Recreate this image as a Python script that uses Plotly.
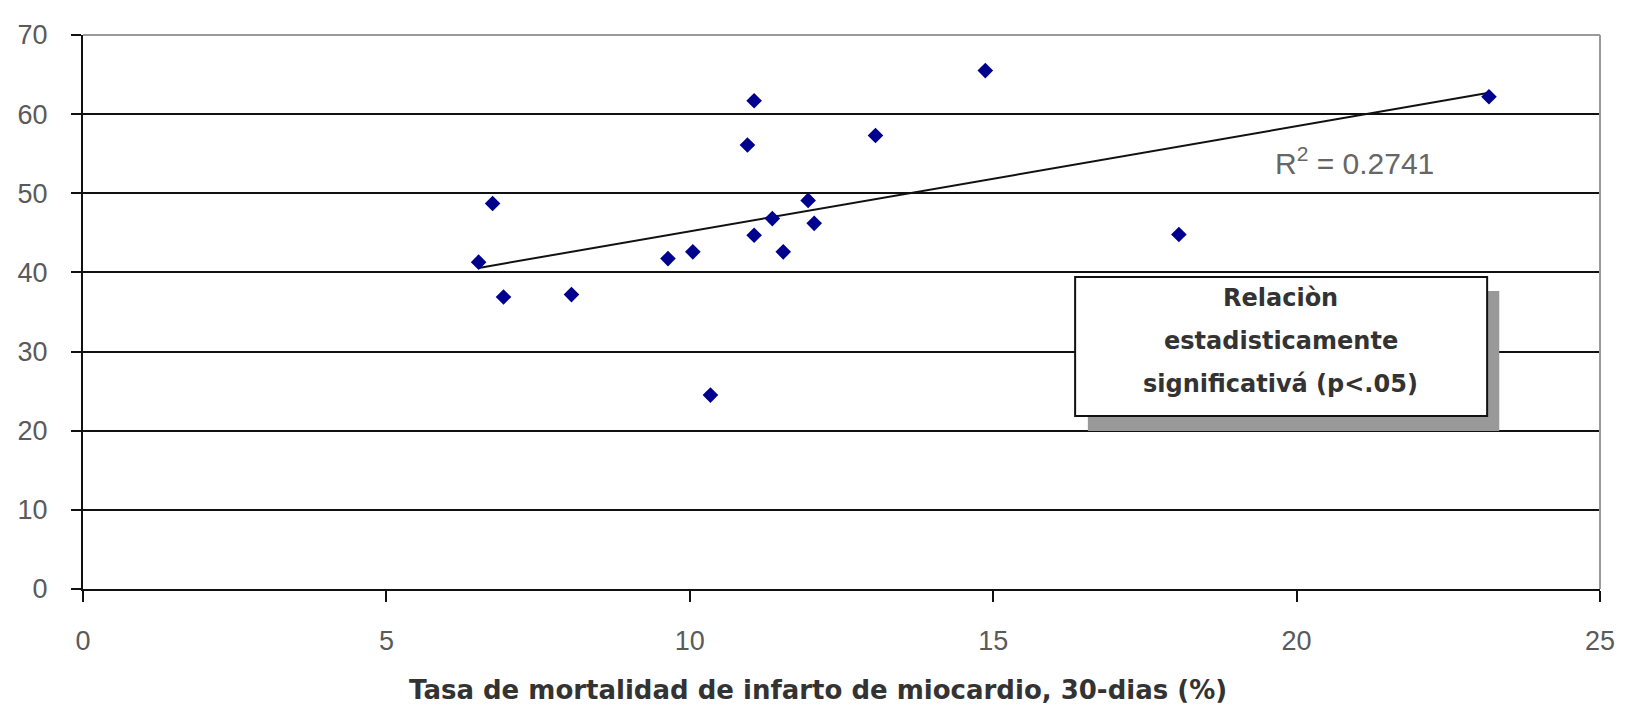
import numpy as np
import plotly.graph_objects as go

# 30-day myocardial infarction mortality (%) vs. second measure, one point per hospital
mortalidad = [6.52, 6.75, 6.93, 8.05, 9.64, 10.05, 10.34, 10.95, 11.06,
              11.06, 11.36, 11.54, 11.95, 12.05, 13.06, 14.87, 18.06, 23.17]
valores = [41.3, 48.7, 36.9, 37.2, 41.75, 42.6, 24.5, 56.1, 61.7,
           44.7, 46.8, 42.6, 49.1, 46.2, 57.3, 65.5, 44.8, 62.2]

x_ticks = [0, 5, 10, 15, 20, 25]
y_ticks = [0, 10, 20, 30, 40, 50, 60, 70]

r2_label = "R<sup>2</sup> = 0.2741"
box_lines = ["Relaciòn", "estadisticamente", "significativá (p<.05)"]
x_title = "Tasa de mortalidad de infarto de miocardio, 30-dias (%)"

# Linear least-squares trend line over the data range
slope, intercept = np.polyfit(mortalidad, valores, 1)
trend_x = np.array([min(mortalidad), max(mortalidad)])
trend_y = slope * trend_x + intercept

FONT = "Liberation Sans, Arial, sans-serif"
BOLD_FONT = "DejaVu Sans, Liberation Sans, sans-serif"

fig = go.Figure()

fig.add_trace(go.Scatter(
    x=trend_x, y=trend_y, mode="lines",
    line=dict(color="#111111", width=2),
    hoverinfo="skip", showlegend=False,
))

fig.add_trace(go.Scatter(
    x=mortalidad, y=valores, mode="markers",
    marker=dict(symbol="diamond", size=12, color="#00008f",
                line=dict(width=0)),
    showlegend=False,
))

fig.update_xaxes(
    range=[0, 25], tickvals=x_ticks, ticktext=[str(v) for v in x_ticks],
    showgrid=False, zeroline=False,
    showline=True, linecolor="#111111", linewidth=2,
    ticks="outside", ticklen=11, tickwidth=2, tickcolor="#111111",
    tickfont=dict(family=FONT, size=27, color="#5a5a5a"),
    ticklabelstandoff=16,
)
fig.update_yaxes(
    range=[0, 70], tickvals=y_ticks, ticktext=[str(v) for v in y_ticks],
    showgrid=True, gridcolor="#111111", gridwidth=2, zeroline=False,
    showline=True, linecolor="#111111", linewidth=2,
    ticks="outside", ticklen=10, tickwidth=2, tickcolor="#111111",
    tickfont=dict(family=FONT, size=27, color="#5a5a5a"),
    ticklabelstandoff=18,
)

shapes = [
    # grey plot-area frame on the top and right
    dict(type="line", xref="paper", yref="paper", x0=0, x1=1, y0=1, y1=1,
         line=dict(color="#9a9a9a", width=2), layer="above"),
    dict(type="line", xref="paper", yref="paper", x0=1, x1=1, y0=0, y1=1,
         line=dict(color="#9a9a9a", width=2), layer="above"),
    # drop shadow of the note box
    dict(type="rect", xref="x", yref="y", x0=16.56, x1=23.34, y0=19.96, y1=37.65,
         fillcolor="#999999", line=dict(width=0), layer="above"),
    # note box
    dict(type="rect", xref="x", yref="y", x0=16.35, x1=23.14, y0=21.86, y1=39.42,
         fillcolor="white", line=dict(color="#111111", width=2), layer="above"),
]

annotations = [
    dict(x=20.96, y=54.1, xref="x", yref="y", text=r2_label, showarrow=False,
         font=dict(family=FONT, size=30, color="#666666")),
    dict(x=0.4846, y=-0.182, xref="paper", yref="paper", text=x_title,
         showarrow=False, yanchor="middle",
         font=dict(family=BOLD_FONT, size=26, color="#333333", weight="bold")),
]
for line_text, y_pos in zip(box_lines, [36.77, 31.34, 25.9]):
    annotations.append(dict(
        x=19.74, y=y_pos, xref="x", yref="y", text=line_text, showarrow=False,
        font=dict(family=BOLD_FONT, size=24, color="#333333", weight="bold"),
    ))

fig.update_layout(
    width=1627, height=711,
    margin=dict(l=83, r=20, t=35, b=122),
    paper_bgcolor="white", plot_bgcolor="white",
    shapes=shapes, annotations=annotations,
    showlegend=False,
)

fig.write_html("out.html")
